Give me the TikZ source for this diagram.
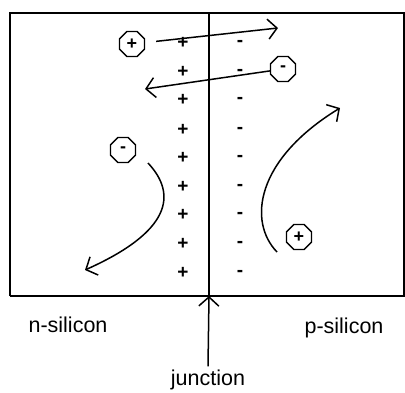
\documentclass[tikz,border=0pt]{standalone}
\usepackage{fontspec}
\setmainfont{Liberation Sans}
\usetikzlibrary{arrows.meta,positioning,shapes.geometric}
\tikzset{
  chargesign/.style={
    inner sep=0pt,
    font=\fontsize{19}{19}\selectfont\bfseries
  },
  carrier/.style={
    regular polygon,
    regular polygon sides=8,
    draw=black,
    line width=1.4pt,
    minimum size=27pt,
    inner sep=0pt,
    font=\fontsize{18}{18}\selectfont\bfseries
  },
  drift/.style={
    -{Straight Barb[length=9pt,width=20pt,line width=1.5pt]},
    line width=1.5pt,
    draw=black
  },
  label/.style={
    font=\fontsize{21.5}{24}\selectfont
  }
}

\begin{document}
\begin{tikzpicture}[x=1pt,y=-1pt]
\useasboundingbox (0,0) rectangle (405,392);
% silicon block
\draw[line width=1.6pt] (10,296) -- (10,13) -- (407,13);
\draw[line width=1.6pt] (10,296) -- (407,296);
\draw[line width=1.6pt] (404,13) -- (404,296);
\draw[line width=1.6pt] (209,13) coordinate (jtop) -- (209,296) coordinate (jbot);

% fixed charges in the depletion region
\foreach \i/\y in {1/43,2/72,3/100,4/130,5/158,6/187,7/215,8/244,9/273}{
  \node[chargesign] (plus\i) at (183,\y) {+};
  \node[chargesign] (minus\i) at (240,\y) {-};
}

% mobile carriers
\node[carrier] (holeA) at (132,44) {+};
\node[carrier] (elecA) at (283,69) {-};
\node[carrier] (elecB) at (123,150) {-};
\node[carrier] (holeB) at (299,237) {+};

\coordinate (holeAend) at (278,28);
\coordinate (elecAend) at (145,89);
\coordinate (elecBstart) at (148,163);
\coordinate (elecBend) at (85,270);
\coordinate (holeBstart) at (277,252);
\coordinate (holeBend) at (340,108);

\draw[drift, shorten <=11pt] (holeA) -- (holeAend);
\draw[drift] (elecA) -- (elecAend);
\draw[drift] (elecBstart) .. controls (178,195) and (170,232) .. (elecBend);
\draw[drift] (holeBstart) .. controls (248,222) and (255,160) .. (holeBend);

% labels
\node[label] (nsi) at (68,325) {n-silicon};
\node[label] (psi) at (344,328) {p-silicon};
\node[label] (junc) at (208,380) {junction};
\draw[drift] (junc.north) -- (jbot);
\end{tikzpicture}
\end{document}
